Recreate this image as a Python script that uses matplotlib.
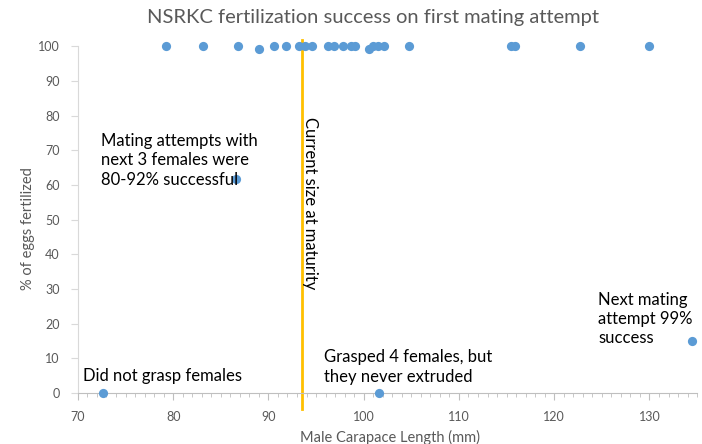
import matplotlib
matplotlib.use('Agg')
import matplotlib.pyplot as plt
import matplotlib.ticker as ticker

plt.rcParams['font.family'] = ['Lato', 'DejaVu Sans']

# male carapace length (mm) and % of eggs fertilized
length = [79.2, 83.1, 86.8, 89.0, 90.6, 91.8, 93.2, 93.8, 94.6, 96.3, 96.9,
          97.8, 98.7, 99.1, 100.6, 101.0, 101.5, 102.1, 104.8, 115.5, 115.9,
          122.7, 130.0, 86.6, 72.6, 101.6, 134.5]
fertilized = [100, 100, 100, 99.3, 100, 100, 100, 100, 100, 100, 100,
              100, 100, 100, 99.2, 100, 100, 100, 100, 100, 100,
              100, 100, 61.8, 0, 0, 15]

maturity_size = 93.5
maturity_line_y = [-4.6, 101.7]

gray = '#595959'
blue = '#5B9BD5'

fig = plt.figure(figsize=(7.02, 4.44), dpi=100)
ax = fig.add_axes([0.111, 0.115, 0.882, 0.781])

ax.scatter(length, fertilized, s=44, color=blue, zorder=3, clip_on=False,
           linewidths=0)
ax.plot([maturity_size, maturity_size], maturity_line_y, color='#FFC000',
        lw=2, clip_on=False, zorder=2)

ax.set_xlim(70, 135)
ax.set_ylim(0, 100)
ax.xaxis.set_major_locator(ticker.MultipleLocator(10))
ax.xaxis.set_minor_locator(ticker.MultipleLocator(1))
ax.yaxis.set_major_locator(ticker.MultipleLocator(10))

for side in ['top', 'right']:
    ax.spines[side].set_visible(False)
ax.spines['left'].set_color('#D9D9D9')
ax.spines['bottom'].set_color('#BFBFBF')
ax.tick_params(axis='both', which='major', direction='out', length=5,
               color='#BFBFBF', labelcolor=gray, labelsize=9)
ax.tick_params(axis='y', color='#D9D9D9', pad=8)
ax.tick_params(axis='x', which='minor', direction='out', length=3,
               color='#BFBFBF')
ax.tick_params(axis='x', pad=8)

fig.text(0.531, 1 - 18 / 444, 'NSRKC fertilization success on first mating attempt',
         fontsize=14.5, color=gray, ha='center', va='center')
ax.set_xlabel('Male Carapace Length (mm)', fontsize=10.5, color=gray)
ax.set_ylabel('% of eggs fertilized', fontsize=10.5, color=gray)
ax.xaxis.set_label_coords(0.504, -0.127)
ax.yaxis.set_label_coords(-0.081, 0.473)
ax.xaxis.label.set_va('center')
ax.yaxis.label.set_va('center')

# annotations
ax.text(72.4, 67.1, 'Mating attempts with\nnext 3 females were\n80-92% successful',
        fontsize=12, va='center', ha='left', linespacing=1.25)
ax.text(94.4, 79.5, 'Current size at maturity', rotation=-90, fontsize=12,
        va='top', ha='center')
ax.text(95.8, 7.5, 'Grasped 4 females, but\nthey never extruded', fontsize=12,
        va='center', ha='left', linespacing=1.25)
ax.text(70.5, 4.9, 'Did not grasp females', fontsize=12, va='center', ha='left')
ax.text(124.6, 21.3, 'Next mating\nattempt 99%\nsuccess', fontsize=12,
        va='center', ha='left', linespacing=1.25)

plt.savefig('out.png', dpi=100)
plt.close(fig)
